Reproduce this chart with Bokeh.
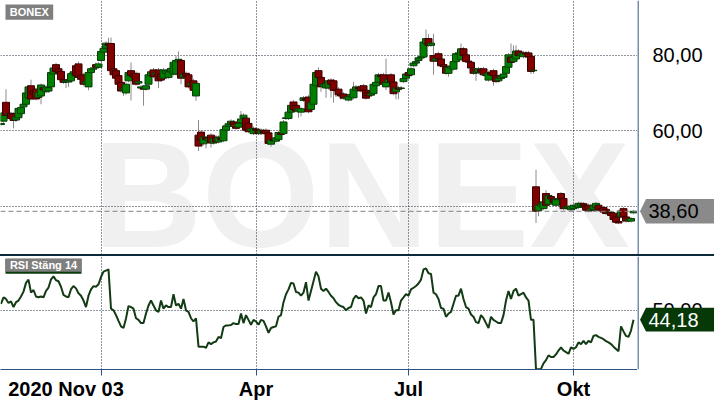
import numpy as np
from bokeh.plotting import figure
from bokeh.models import (ColumnDataSource, FixedTicker, Label, BoxAnnotation, Span,
                          Div, Range1d, Grid)
from bokeh.layouts import column, row
from bokeh.core.properties import value
from bokeh.embed import file_html
from bokeh.resources import INLINE

# ---------------- data ----------------
symbol = "BONEX"
indicator_name = "RSI Stäng 14"
start_label = "2020 Nov 03"
month_ticks = [40, 102, 163, 229]          # trading-day index of month starts
month_labels = ["", "Apr", "Jul", "Okt"]
price_ticks = [40, 60, 80]
price_labels = ["40,00", "60,00", "80,00"]
rsi_ticks = [50]
rsi_labels = ["50,00"]

open_ = [
    61.6, 62.5, 67.5, 64.2, 64.6, 64.4, 62.8, 63.4, 64.5, 66.3,
    67.0, 68.7, 71.9, 70.5, 71.0, 68.8, 69.2, 71.4, 70.3, 70.5,
    71.6, 75.0, 77.5, 76.4, 75.7, 73.5, 72.9, 72.9, 73.2, 75.0,
    77.2, 77.7, 74.6, 74.8, 72.5, 71.6, 75.4, 76.3, 77.5, 76.8,
    78.6, 80.8, 81.9, 83.0, 83.1, 76.4, 75.9, 74.6, 72.8, 70.8,
    70.0, 73.2, 75.9, 75.0, 75.2, 72.6, 71.3, 71.2, 71.0, 72.3,
    74.6, 76.1, 74.8, 76.1, 75.0, 73.9, 75.2, 74.1, 75.6, 75.0,
    75.0, 78.3, 78.6, 74.1, 75.2, 74.8, 72.0, 73.2, 69.2, 58.8,
    59.6, 56.5, 58.1, 57.3, 58.8, 56.7, 58.3, 57.0, 57.9, 57.3,
    60.1, 61.1, 61.7, 62.3, 61.2, 60.9, 62.1, 63.3, 63.3, 61.9,
    59.9, 59.2, 60.4, 60.1, 59.2, 59.9, 60.1, 59.4, 56.4, 57.6,
    57.2, 57.6, 59.3, 59.2, 63.2, 63.2, 64.9, 67.6, 66.7, 65.2,
    64.9, 68.0, 68.5, 68.9, 65.6, 67.0, 71.9, 75.9, 74.1, 71.7,
    71.3, 71.3, 73.4, 73.2, 70.9, 71.0, 69.7, 69.7, 68.7, 68.1,
    69.0, 68.7, 70.7, 71.4, 71.6, 71.9, 70.7, 70.1, 69.4, 69.8,
    71.9, 72.8, 74.6, 74.8, 71.6, 72.8, 74.8, 72.9, 70.3, 71.3,
    71.2, 73.0, 73.9, 75.4, 74.8, 77.2, 77.9, 78.6, 79.3, 79.5,
    83.1, 84.4, 82.6, 79.9, 78.6, 80.4, 79.0, 77.5, 77.0, 75.2,
    76.6, 76.3, 78.3, 80.2, 78.8, 81.7, 80.1, 78.4, 78.1, 76.4,
    75.3, 75.4, 76.2, 76.4, 74.6, 73.4, 75.3, 75.9, 74.6, 73.2,
    73.8, 74.1, 75.2, 76.8, 79.5, 78.3, 79.0, 81.1, 80.0, 79.6,
    80.6, 80.6, 79.7, 75.9, 45.1, 38.8, 40.0, 39.3, 43.3, 40.5,
    42.5, 41.7, 40.2, 41.7, 43.3, 42.0, 39.4, 39.5, 39.0, 39.3,
    39.9, 39.6, 39.9, 40.6, 39.9, 40.2, 38.8, 39.1, 39.6, 40.2,
    39.3, 39.6, 39.1, 38.3, 38.3, 38.1, 37.1, 35.9, 37.1, 39.3,
    37.1, 36.1, 36.0, 38.2,
]
high = [
    62.1, 65.2, 71.0, 64.9, 65.0, 64.8, 64.0, 66.3, 66.6, 67.5,
    70.5, 72.0, 73.5, 71.0, 71.4, 70.6, 72.5, 71.9, 72.0, 71.9,
    75.9, 77.1, 78.0, 76.9, 76.2, 73.9, 73.6, 73.7, 75.6, 76.1,
    77.8, 78.3, 75.1, 75.3, 73.5, 75.8, 76.9, 77.1, 78.0, 78.2,
    81.4, 82.3, 83.7, 84.6, 84.7, 76.9, 76.4, 75.1, 73.3, 71.7,
    72.8, 75.9, 78.1, 75.5, 75.7, 73.5, 72.1, 71.7, 72.4, 75.3,
    76.1, 76.6, 75.8, 76.6, 75.5, 76.6, 76.4, 76.1, 77.0, 78.6,
    79.9, 81.0, 79.1, 75.5, 75.7, 75.3, 73.1, 73.7, 73.0, 62.8,
    60.1, 58.8, 58.6, 58.4, 59.3, 58.4, 58.8, 58.7, 58.4, 61.5,
    61.7, 62.3, 63.0, 62.8, 61.7, 62.4, 65.2, 64.6, 63.8, 62.4,
    61.0, 61.1, 60.9, 60.6, 60.6, 60.4, 60.6, 59.9, 58.1, 58.1,
    58.6, 60.0, 59.8, 62.8, 63.9, 65.4, 67.2, 68.1, 67.2, 66.3,
    66.3, 69.2, 69.0, 69.4, 67.9, 72.8, 75.9, 76.8, 74.6, 72.8,
    73.0, 73.7, 73.9, 73.7, 71.4, 71.5, 70.2, 70.2, 69.3, 69.5,
    70.1, 72.9, 72.1, 71.9, 72.1, 72.4, 71.2, 70.6, 70.4, 72.8,
    73.3, 75.3, 75.1, 75.3, 79.1, 74.1, 75.3, 73.4, 71.8, 71.8,
    71.8, 74.3, 75.5, 75.9, 76.9, 78.4, 78.8, 79.8, 80.1, 84.0,
    86.8, 85.6, 83.7, 85.7, 79.7, 80.9, 79.5, 78.0, 77.5, 77.3,
    77.6, 78.8, 80.9, 81.1, 83.1, 82.2, 80.6, 78.9, 78.6, 76.9,
    76.1, 76.9, 76.7, 76.9, 75.4, 75.9, 75.8, 76.4, 75.1, 74.4,
    74.9, 75.5, 77.5, 80.6, 83.1, 82.6, 82.6, 81.6, 80.9, 81.1,
    81.1, 81.1, 80.2, 76.3, 49.6, 40.6, 40.9, 41.5, 44.2, 43.2,
    42.9, 42.1, 42.1, 42.4, 43.7, 42.4, 40.1, 40.2, 40.3, 40.6,
    40.3, 41.1, 41.1, 41.0, 40.3, 40.6, 39.6, 40.6, 41.1, 40.6,
    39.7, 40.0, 39.5, 38.8, 38.7, 38.5, 37.5, 36.3, 39.1, 39.7,
    37.5, 36.8, 37.1, 38.9,
]
low = [
    61.3, 62.1, 63.6, 63.7, 62.9, 60.6, 62.3, 63.0, 64.1, 65.8,
    66.6, 68.2, 68.0, 69.2, 68.0, 68.3, 67.0, 70.3, 69.9, 70.1,
    71.2, 74.6, 75.3, 74.9, 73.1, 72.4, 71.3, 71.6, 72.8, 74.6,
    74.2, 73.7, 73.2, 71.9, 72.0, 70.7, 75.0, 75.9, 76.4, 76.4,
    78.2, 80.4, 81.5, 82.2, 75.5, 74.4, 73.5, 71.9, 70.1, 69.2,
    69.5, 72.8, 68.0, 73.8, 71.9, 72.2, 70.9, 66.6, 70.6, 71.9,
    74.2, 73.9, 74.4, 71.3, 73.0, 73.5, 74.8, 73.7, 75.2, 74.6,
    74.6, 77.9, 72.3, 73.7, 72.3, 71.2, 71.6, 70.3, 67.9, 54.6,
    57.0, 56.1, 55.3, 56.9, 55.5, 56.3, 56.6, 56.6, 57.2, 56.9,
    59.7, 60.7, 61.3, 61.1, 60.2, 60.5, 61.7, 62.9, 59.7, 59.3,
    59.5, 58.8, 59.7, 58.8, 58.8, 59.1, 58.8, 56.2, 55.7, 56.9,
    56.8, 57.2, 58.6, 58.8, 62.8, 62.8, 64.5, 65.2, 64.8, 63.4,
    63.8, 67.6, 67.8, 64.6, 65.2, 66.6, 71.5, 73.7, 70.3, 71.3,
    68.7, 70.9, 68.7, 67.4, 68.9, 69.1, 68.2, 68.2, 68.3, 67.7,
    68.6, 68.3, 70.3, 70.8, 70.1, 70.3, 68.2, 68.8, 69.0, 69.4,
    71.5, 72.4, 73.9, 71.9, 70.7, 72.4, 72.5, 69.4, 68.3, 68.3,
    70.8, 72.6, 73.5, 74.2, 74.4, 76.8, 77.5, 78.2, 78.9, 79.1,
    82.7, 82.2, 82.2, 74.8, 78.2, 78.6, 76.8, 76.6, 74.8, 74.3,
    76.2, 75.9, 77.9, 79.8, 78.4, 79.5, 77.9, 77.8, 76.2, 74.8,
    73.2, 75.0, 75.2, 74.4, 73.2, 73.0, 74.4, 71.9, 72.6, 72.8,
    73.4, 73.7, 74.8, 76.4, 77.7, 77.9, 78.6, 79.5, 79.6, 79.2,
    79.9, 79.1, 75.0, 75.1, 35.5, 37.3, 39.6, 38.9, 39.8, 40.1,
    41.5, 40.6, 39.8, 41.3, 41.6, 38.9, 39.0, 39.1, 38.6, 38.9,
    39.5, 39.2, 39.5, 39.7, 38.5, 38.3, 38.4, 38.7, 39.2, 38.5,
    38.7, 38.0, 37.6, 37.9, 37.1, 36.0, 35.3, 35.2, 36.7, 35.9,
    35.6, 35.7, 35.6, 37.8,
]
close = [
    61.9, 64.7, 64.0, 64.5, 63.2, 62.7, 63.6, 65.9, 66.1, 67.0,
    70.0, 71.6, 68.4, 69.6, 68.4, 70.2, 72.1, 70.8, 71.6, 71.4,
    75.4, 76.6, 75.7, 75.3, 73.5, 72.8, 73.2, 73.2, 75.1, 75.6,
    74.6, 74.1, 73.6, 72.3, 73.0, 75.4, 76.4, 76.6, 76.8, 77.7,
    81.0, 81.8, 83.2, 82.6, 75.9, 74.8, 73.9, 72.3, 70.5, 71.2,
    72.3, 75.4, 74.6, 74.2, 72.3, 73.0, 71.6, 71.0, 71.9, 74.8,
    75.6, 74.3, 75.3, 73.2, 73.4, 76.1, 75.9, 75.6, 76.5, 78.1,
    78.6, 78.9, 73.9, 75.0, 74.4, 71.6, 72.6, 70.7, 72.5, 55.9,
    57.4, 58.3, 57.6, 57.9, 56.7, 57.9, 57.0, 58.2, 57.6, 60.3,
    61.2, 61.8, 62.5, 61.5, 60.6, 61.9, 63.1, 64.1, 60.1, 59.7,
    60.5, 60.6, 60.1, 59.2, 60.1, 59.5, 59.2, 56.6, 57.6, 57.3,
    58.1, 59.5, 59.0, 62.3, 63.4, 64.9, 66.7, 65.6, 65.2, 65.8,
    65.8, 68.7, 68.2, 65.0, 67.4, 72.3, 75.4, 74.1, 71.6, 72.3,
    72.5, 73.2, 72.3, 70.7, 70.6, 69.5, 69.2, 68.6, 68.8, 69.0,
    69.6, 71.0, 71.6, 71.2, 70.5, 70.7, 68.6, 69.2, 69.9, 72.3,
    72.8, 74.8, 74.3, 72.3, 72.8, 73.6, 72.9, 69.8, 71.3, 71.0,
    71.3, 73.8, 75.0, 74.6, 76.4, 77.9, 78.3, 79.3, 79.6, 83.5,
    84.4, 82.6, 83.2, 78.4, 79.2, 79.0, 77.2, 77.0, 75.2, 76.8,
    77.1, 78.3, 80.4, 80.6, 81.7, 79.9, 78.3, 78.2, 76.6, 75.2,
    75.6, 76.4, 75.6, 74.8, 74.9, 75.4, 74.8, 74.6, 73.0, 73.9,
    74.4, 75.0, 77.0, 80.1, 78.1, 79.4, 81.1, 79.9, 80.4, 80.6,
    80.3, 79.5, 75.7, 76.0, 38.6, 40.2, 40.5, 41.1, 40.2, 42.8,
    41.9, 41.0, 41.7, 42.0, 42.0, 39.3, 39.7, 39.8, 39.9, 40.2,
    39.9, 40.7, 40.7, 40.1, 38.9, 38.7, 39.2, 40.2, 40.7, 38.9,
    39.1, 38.4, 38.0, 38.4, 37.5, 36.4, 35.7, 35.5, 38.7, 37.1,
    36.0, 36.4, 36.7, 38.6,
]
rsi = [
    54.0, 57.9, 57.0, 54.5, 55.5, 52.0, 55.0, 56.0, 58.5, 61.5,
    66.9, 68.9, 60.9, 62.5, 58.5, 58.0, 58.5, 58.0, 61.9, 64.0,
    69.0, 70.9, 68.5, 67.9, 64.5, 59.5, 58.5, 58.0, 63.0, 64.9,
    63.5, 60.5, 59.0, 56.0, 52.0, 59.0, 62.9, 64.9, 64.5, 66.0,
    70.5, 73.8, 74.5, 75.2, 51.0, 50.0, 47.0, 43.5, 40.1, 39.1,
    45.0, 52.6, 52.0, 51.0, 45.1, 44.1, 42.1, 42.1, 48.0, 53.0,
    56.0, 53.0, 50.0, 49.0, 56.0, 51.0, 53.0, 52.0, 52.0, 59.9,
    53.0, 54.0, 51.0, 57.0, 50.0, 49.0, 45.1, 43.1, 45.1, 27.6,
    27.6, 27.6, 26.8, 30.2, 29.2, 30.2, 30.8, 33.6, 32.8, 39.7,
    40.7, 40.7, 40.9, 42.1, 41.5, 41.5, 48.0, 42.1, 47.0, 44.1,
    41.1, 44.1, 43.1, 41.1, 44.1, 43.5, 40.1, 36.1, 39.1, 39.7,
    40.1, 46.0, 47.0, 55.0, 59.9, 62.9, 66.9, 66.5, 61.3, 60.9,
    59.0, 60.9, 67.3, 56.0, 61.9, 67.9, 73.8, 70.9, 63.3, 61.9,
    63.3, 61.3, 59.0, 57.4, 55.0, 53.4, 52.5, 52.0, 50.0, 51.4,
    52.0, 57.0, 59.0, 57.4, 57.9, 56.0, 48.0, 53.0, 52.0, 57.9,
    59.9, 64.9, 64.9, 56.0, 56.0, 60.9, 55.0, 47.4, 50.0, 50.0,
    56.0, 57.9, 59.9, 59.0, 62.9, 63.9, 65.0, 66.5, 68.9, 75.2,
    75.8, 72.8, 72.4, 60.9, 59.9, 57.0, 51.4, 51.0, 46.0, 48.0,
    49.0, 54.0, 59.0, 59.0, 63.3, 57.0, 52.0, 51.0, 47.4, 46.0,
    42.7, 42.1, 47.0, 45.1, 42.1, 39.1, 46.0, 44.1, 43.1, 42.1,
    42.1, 47.0, 56.0, 61.9, 57.0, 61.9, 63.3, 59.0, 59.9, 60.9,
    57.9, 56.0, 44.1, 44.1, 13.6, 13.6, 13.9, 17.3, 19.3, 22.2,
    21.2, 21.2, 22.8, 25.2, 27.2, 25.2, 24.2, 23.2, 27.2, 26.2,
    27.2, 30.2, 29.2, 31.2, 29.2, 31.2, 30.2, 34.2, 34.7, 33.6,
    33.0, 32.2, 31.0, 30.2, 29.2, 27.6, 26.2, 24.8, 40.1, 37.0,
    34.2, 33.6, 37.5, 44.18,
]

# ---------------- layout constants (page pixels) ----------------
W = 714
FRAME_W = 637
SIDE_W = W - FRAME_W
H1 = 254
SEP = 2
H2 = 146
B2 = 29
X0, X1 = -0.2, 254.6
P_LO, P_HI = 27.14, 94.51
R_LO, R_HI = 13.51, 83.15
PPX = FRAME_W / (X1 - X0)
PPY1 = H1 / (P_HI - P_LO)
PPY2 = (H2 - B2) / (R_HI - R_LO)
TOP2 = H1 + SEP


def fx(px):
    return X0 + px / PPX


def fy1(py):
    return P_HI - py / PPY1


def fy2(py):
    return R_HI - (py - TOP2) / PPY2


AX = "#2c5384"
GRID = "#1c2a3a"
FONT = "Liberation Sans"

idx = np.arange(len(close))
o = np.array(open_)
c = np.array(close)
up = c >= o
src = ColumnDataSource(dict(
    x=idx, h=high, l=low,
    top=np.maximum(o, c), bot=np.minimum(o, c),
    fill=["#008000" if u else "#800000" for u in up],
    line=["#0b3d0b" if u else "#3b0000" for u in up],
))


def style_grid(fig, dim, ticks):
    grids = fig.xgrid if dim == 0 else fig.ygrid
    if len(grids) == 0:
        fig.add_layout(Grid(dimension=dim))
        grids = fig.xgrid if dim == 0 else fig.ygrid
    grids.ticker = FixedTicker(ticks=ticks)
    grids.grid_line_color = GRID
    grids.grid_line_dash = "1 2"
    grids.grid_line_width = 1
    grids.grid_line_alpha = 1


def side_panel(yrange, height, bottom, ticks, labels, val, tag_color, tag_text_color, ppy):
    s = figure(width=SIDE_W, height=height, x_range=Range1d(0, SIDE_W), y_range=yrange,
               x_axis_location=None, y_axis_location=None, toolbar_location=None,
               output_backend="svg", min_border_left=0, min_border_right=0,
               min_border_top=0, min_border_bottom=bottom)
    s.outline_line_color = None
    s.xgrid.visible = False
    s.ygrid.visible = False
    s.segment(x0=[0.5], y0=[yrange.start], x1=[0.5], y1=[yrange.end],
              line_color=AX, line_width=1.3)
    s.text(x=[15] * len(ticks), y=ticks, text=labels, text_align="left",
           text_baseline="middle", text_font=value(FONT),
           text_font_size=value("20px"), text_color="black")
    dy = 12.3 / ppy
    s.patch(x=[2.5, 8.5, SIDE_W, SIDE_W, 8.5],
            y=[val, val + dy, val + dy, val - dy, val - dy],
            fill_color=tag_color, line_color=None)
    s.text(x=[11], y=[val], text=[f"{val:.2f}".replace(".", ",")], text_align="left",
           text_baseline="middle", text_font=value(FONT),
           text_font_size=value("20px"), text_color=tag_text_color)
    return s


# ---------------- price panel ----------------
p = figure(width=FRAME_W, height=H1, x_range=Range1d(X0, X1), y_range=Range1d(P_LO, P_HI),
           x_axis_location=None, y_axis_location=None, toolbar_location=None,
           output_backend="svg", min_border_left=0, min_border_right=0,
           min_border_top=0, min_border_bottom=0)
p.outline_line_color = None
style_grid(p, 1, price_ticks)
style_grid(p, 0, month_ticks)

p.add_layout(Label(x=fx(361), y=fy1(194), text=symbol, text_align="center",
                   text_baseline="middle", text_font=FONT, text_font_style="bold",
                   text_font_size="151px", text_color="#f0f0f0", level="image"))

p.segment("x", "h", "x", "l", source=src, line_color="#8c8c8c", line_width=1)
p.vbar(x="x", width=2.8, top="top", bottom="bot", fill_color="fill",
       line_color="line", line_width=1, source=src)

p.add_layout(Span(location=close[-1], dimension="width", line_color="#808080",
                  line_dash="5 3", line_width=1))

p.add_layout(BoxAnnotation(left=fx(5), right=fx(52.7), top=fy1(4), bottom=fy1(19.3),
                           fill_color="#7f7f7f", fill_alpha=1, line_color=None))
p.add_layout(Label(x=fx(28.9), y=fy1(11.8), text=symbol, text_align="center",
                   text_baseline="middle", text_font=FONT, text_font_style="bold",
                   text_font_size="11px", text_color="white"))

ps = side_panel(p.y_range, H1, 0, price_ticks, price_labels, close[-1],
                "#8a8a8a", "black", PPY1)

# ---------------- separator ----------------
sep = Div(width=W, height=SEP, margin=0, styles={"background-color": "#0d2a3c"})

# ---------------- RSI panel ----------------
q = figure(width=FRAME_W, height=H2, x_range=p.x_range, y_range=Range1d(R_LO, R_HI),
           x_axis_location="below", y_axis_location=None, toolbar_location=None,
           output_backend="svg", min_border_left=0, min_border_right=0,
           min_border_top=0, min_border_bottom=B2)
q.outline_line_color = None
style_grid(q, 1, rsi_ticks)
style_grid(q, 0, month_ticks)

label_tick = 26
xa = q.xaxis
xa.ticker = FixedTicker(ticks=[label_tick] + month_ticks, minor_ticks=month_ticks)
ov = {label_tick: start_label}
ov.update(dict(zip(month_ticks, month_labels)))
xa.major_label_overrides = ov
xa.axis_line_color = AX
xa.major_tick_line_color = None
xa.major_tick_out = 4
xa.major_tick_in = 0
xa.minor_tick_line_color = AX
xa.minor_tick_out = 6
xa.minor_tick_in = 0
xa.major_label_standoff = 2
xa.major_label_text_font = FONT
xa.major_label_text_font_style = "bold"
xa.major_label_text_font_size = "20px"
xa.major_label_text_color = "black"

q.line(idx, rsi, line_color="#123a14", line_width=2)

q.add_layout(BoxAnnotation(left=fx(5), right=fx(81), top=fy2(258.3), bottom=fy2(273.8),
                           fill_color="#0b3b0b", fill_alpha=1, line_color=None))
q.add_layout(BoxAnnotation(left=fx(5), right=fx(81), top=fy2(258.3), bottom=fy2(271.7),
                           fill_color="#7f7f7f", fill_alpha=1, line_color=None))
q.add_layout(Label(x=fx(43), y=fy2(265.2), text=indicator_name, text_align="center",
                   text_baseline="middle", text_font=FONT, text_font_style="bold",
                   text_font_size="11px", text_color="white"))

qs = side_panel(q.y_range, H2, B2, rsi_ticks, rsi_labels, rsi[-1],
                "#073807", "white", PPY2)

layout = column(row(p, ps, spacing=0), sep, row(q, qs, spacing=0), spacing=0)
open("out.html", "w").write(file_html(layout, INLINE))
